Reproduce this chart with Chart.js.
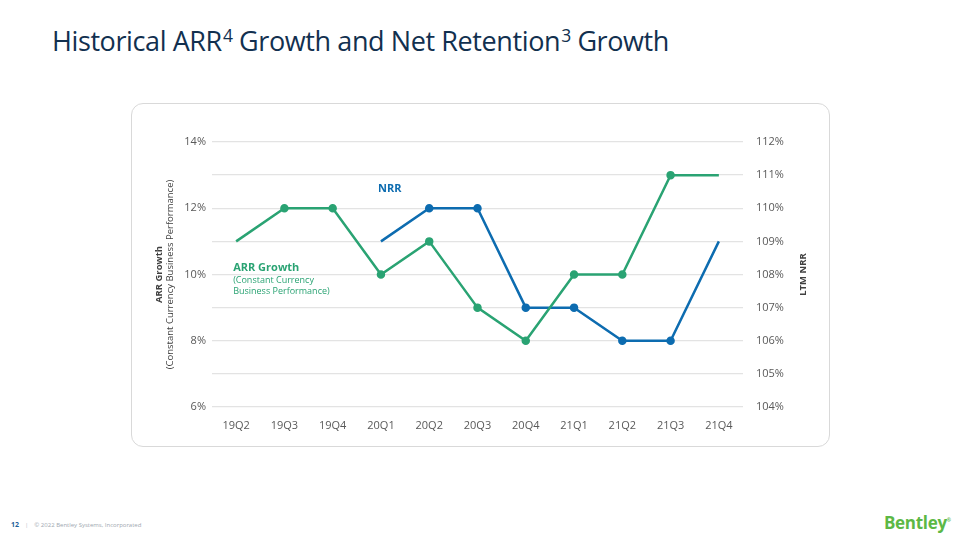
<!DOCTYPE html>
<html>
<head>
<meta charset="utf-8">
<script src="https://cdn.jsdelivr.net/npm/chart.js@4/dist/chart.umd.min.js"></script>
<style>
  html,body{margin:0;padding:0;background:#fff;width:960px;height:540px;overflow:hidden;font-family:"Open Sans",sans-serif;}
  #title{position:absolute;left:52px;top:22px;font-size:27px;color:#12304f;font-weight:400;letter-spacing:-0.4px;white-space:nowrap;}
  #title sup{font-size:17.5px;vertical-align:top;position:relative;top:1px;margin-left:1px;}
  #card{position:absolute;left:131px;top:103px;width:697px;height:342px;border:1px solid #d9d9d9;border-radius:12px;background:#fff;}
  #wrap{position:absolute;left:131px;top:103px;width:698px;height:343px;}
  #footer{position:absolute;left:11px;top:520px;font-size:6px;color:#a0a7b0;white-space:nowrap;}
  #footer b{color:#1f5f99;font-size:7px;margin-right:6px;}
  #footer .bar{margin-right:6px;color:#b8bec6;}
  #logo{position:absolute;left:884px;top:511px;font-size:17px;font-weight:700;color:#5cb845;font-family:"Open Sans",sans-serif;letter-spacing:-0.3px;}
  #logo sup{font-size:5px;vertical-align:top;position:relative;top:6px;}
</style>
</head>
<body>
<div id="title">Historical ARR<sup>4</sup> Growth and Net Retention<sup>3</sup> Growth</div>
<div id="card"></div>
<div id="wrap"><canvas id="c" width="698" height="343"></canvas></div>
<div id="footer"><b>12</b><span class="bar">|</span>© 2022 Bentley Systems, Incorporated</div>
<div id="logo">Bentley<sup>®</sup></div>
<script>
const categories = ["19Q2","19Q3","19Q4","20Q1","20Q2","20Q3","20Q4","21Q1","21Q2","21Q3","21Q4"];
const arrGrowth = [11, 12, 12, 10, 11, 9, 8, 10, 10, 13, 13];
const ltmNrr = [null, null, null, 109, 110, 110, 107, 107, 106, 106, 109];
const leftTicks = [6, 8, 10, 12, 14];
const rightTicks = [104, 105, 106, 107, 108, 109, 110, 111, 112];

const GREEN = "#2aa373";
const BLUE = "#0d6cb0";

function endRadius(data){
  return (ctx) => {
    const i = ctx.dataIndex;
    let first = data.findIndex(v => v !== null);
    let last = data.length - 1 - [...data].reverse().findIndex(v => v !== null);
    return (i === first || i === last) ? 0 : 3;
  };
}

const annotations = {
  id: "annotations",
  afterDraw(chart){
    const ctx = chart.ctx;
    const ca = chart.chartArea;
    const xs = chart.scales.x, y = chart.scales.y, y1 = chart.scales.y1;
    ctx.save();
    ctx.fillStyle = BLUE;
    ctx.font = "bold 11px 'Open Sans'";
    ctx.textAlign = "left";
    ctx.textBaseline = "middle";
    ctx.fillText("NRR", xs.getPixelForValue(3) - 3, y1.getPixelForValue(110.6));
    ctx.fillStyle = GREEN;
    const lx = xs.getPixelForValue(0) - 3;
    ctx.font = "bold 11px 'Open Sans'";
    ctx.fillText("ARR Growth", lx, y.getPixelForValue(10.2));
    ctx.font = "9px 'Open Sans'";
    ctx.fillText("(Constant Currency", lx, y.getPixelForValue(9.82));
    ctx.fillText("Business Performance)", lx, y.getPixelForValue(9.48));
    const cy = (ca.top + ca.bottom) / 2;
    ctx.fillStyle = "#404040";
    ctx.textAlign = "center";
    ctx.translate(28, cy);
    ctx.rotate(-Math.PI/2);
    ctx.font = "bold 9.5px 'Open Sans'";
    ctx.fillText("ARR Growth", 0, 0);
    ctx.font = "9.5px 'Open Sans'";
    ctx.fillText("(Constant Currency Business Performance)", 0, 11);
    ctx.restore();
    ctx.save();
    ctx.fillStyle = "#404040";
    ctx.textAlign = "center";
    ctx.textBaseline = "middle";
    ctx.translate(672, cy);
    ctx.rotate(-Math.PI/2);
    ctx.font = "bold 9.5px 'Open Sans'";
    ctx.fillText("LTM NRR", 0, 0);
    ctx.restore();
  }
};

new Chart(document.getElementById("c"), {
  type: "line",
  data: {
    labels: categories,
    datasets: [
      {label: "ARR Growth", data: arrGrowth, yAxisID: "y", borderColor: GREEN, backgroundColor: GREEN,
       borderWidth: 2.5, pointRadius: endRadius(arrGrowth), pointHoverRadius: 0, tension: 0},
      {label: "NRR", data: ltmNrr, yAxisID: "y1", borderColor: BLUE, backgroundColor: BLUE,
       borderWidth: 2.5, pointRadius: endRadius(ltmNrr), pointHoverRadius: 0, tension: 0}
    ]
  },
  options: {
    responsive: false,
    animation: false,
    events: [],
    layout: {padding: {top: 39, left: 0, right: 0, bottom: 0}},
    plugins: {legend: {display: false}, tooltip: {enabled: false}},
    scales: {
      x: {
        offset: true,
        grid: {display: false},
        border: {display: false},
        ticks: {color: "#595959", font: {family: "Open Sans", size: 11}, padding: 4, maxRotation: 0},
        afterFit: (s) => { s.height = 39; }
      },
      y: {
        position: "left",
        min: 6, max: 14,
        afterBuildTicks: (s) => { s.ticks = [6,7,8,9,10,11,12,13,14].map(v => ({value: v})); },
        grid: {color: "#e3e3e3", lineWidth: 1.3, drawTicks: false},
        border: {display: false},
        ticks: {color: "#595959", font: {family: "Open Sans", size: 11}, padding: 6,
                callback: (v) => leftTicks.includes(v) ? v + "%" : ""},
        afterFit: (s) => { s.width = 81; }
      },
      y1: {
        position: "right",
        min: 104, max: 112,
        afterBuildTicks: (s) => { s.ticks = rightTicks.map(v => ({value: v})); },
        grid: {display: false, drawTicks: false},
        border: {display: false},
        ticks: {color: "#595959", font: {family: "Open Sans", size: 11}, padding: 13,
                callback: (v) => v + "%"},
        afterFit: (s) => { s.width = 86; }
      }
    }
  },
  plugins: [annotations]
});
</script>
</body>
</html>
